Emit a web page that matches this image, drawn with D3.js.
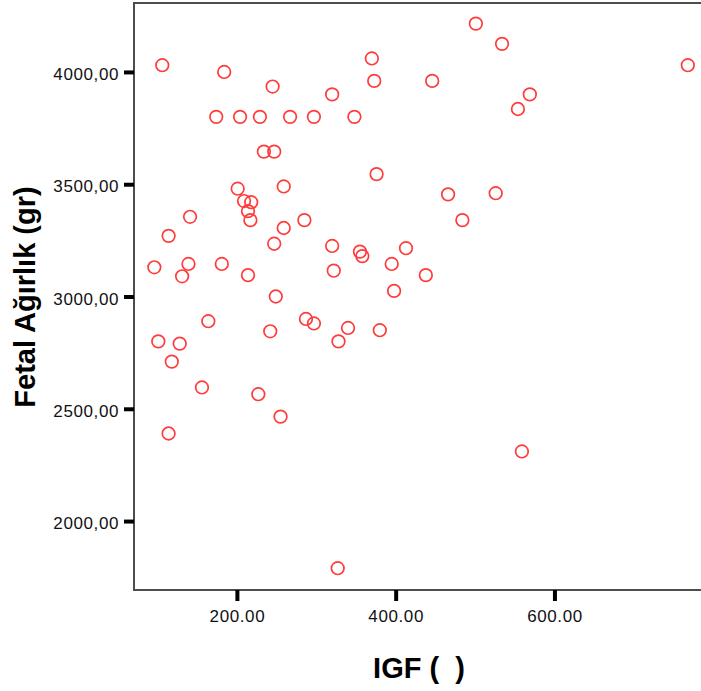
<!DOCTYPE html>
<html>
<head>
<meta charset="utf-8">
<script src="https://cdn.jsdelivr.net/npm/d3@7"></script>
<style>
  html, body { margin: 0; padding: 0; background: #fff; }
  svg { display: block; font-family: Arial, "Liberation Sans", sans-serif; }
</style>
</head>
<body>
<div id="chart"></div>
<script>
// ---- data ----
const igf = [106, 184, 245, 174, 204, 229, 267, 297, 348, 320,
             370, 373, 446, 501, 534, 569, 554, 768, 234, 247,
             201, 259, 376, 466, 526, 484, 209, 218, 214, 217,
             141, 114, 285, 259, 247, 320, 355, 358, 413, 96,
             139, 181, 131, 214, 322, 395, 438, 398, 249, 164,
             287, 297, 242, 340, 380, 101, 128, 328, 118, 156,
             227, 255, 114, 559, 327];
const fetalWeight = [4030, 4000, 3935, 3800, 3800, 3800, 3800, 3800, 3800, 3900,
                     4060, 3960, 3960, 4215, 4125, 3900, 3835, 4030, 3645, 3645,
                     3480, 3490, 3545, 3455, 3460, 3340, 3425, 3420, 3380, 3340,
                     3355, 3270, 3340, 3305, 3235, 3225, 3200, 3180, 3215, 3130,
                     3145, 3145, 3090, 3095, 3115, 3145, 3095, 3025, 3000, 2890,
                     2900, 2880, 2845, 2860, 2850, 2800, 2790, 2800, 2710, 2595,
                     2565, 2465, 2390, 2310, 1790];
const xTickValues = [200, 400, 600];
const xTickLabels = ["200.00", "400.00", "600.00"];
const yTickValues = [2000, 2500, 3000, 3500, 4000];
const yTickLabels = ["2000,00", "2500,00", "3000,00", "3500,00", "4000,00"];
const xTitle = "IGF (  )";
const yTitle = "Fetal Ağırlık (gr)";

// ---- layout ----
const W = 701, H = 691;
const plot = { left: 134, top: 3, right: 701, bottom: 590 };

const svg = d3.select("#chart").append("svg")
  .attr("width", W).attr("height", H);

const x = d3.scaleLinear().domain([70.4, 784.6]).range([plot.left, plot.right]);
const y = d3.scaleLinear().domain([1693, 4307]).range([plot.bottom, plot.top]);

// frame (right side runs off the canvas as in the reference)
svg.append("rect")
  .attr("x", plot.left).attr("y", plot.top)
  .attr("width", plot.right - plot.left + 30)
  .attr("height", plot.bottom - plot.top)
  .attr("fill", "none").attr("stroke", "#4d4d4d").attr("stroke-width", 2);

// y axis
const yAxis = svg.append("g")
  .attr("transform", `translate(${plot.left},0)`)
  .call(d3.axisLeft(y).tickValues(yTickValues).tickSize(10).tickPadding(5)
        .tickFormat((d, i) => yTickLabels[i]));
yAxis.select(".domain").remove();
yAxis.selectAll(".tick line").attr("stroke", "#000").attr("stroke-width", 4);
yAxis.selectAll(".tick text")
  .attr("font-size", 17).attr("fill", "#111")
  .attr("font-family", "Arial, 'Liberation Sans', sans-serif")
  .style("letter-spacing", "0.6px")
  .attr("dy", "0.45em");

// x axis
const xAxis = svg.append("g")
  .attr("transform", `translate(0,${plot.bottom})`)
  .call(d3.axisBottom(x).tickValues(xTickValues).tickSize(11).tickPadding(9)
        .tickFormat((d, i) => xTickLabels[i]));
xAxis.select(".domain").remove();
xAxis.selectAll(".tick line").attr("stroke", "#000").attr("stroke-width", 4);
xAxis.selectAll(".tick text")
  .attr("font-size", 17).attr("fill", "#111")
  .attr("font-family", "Arial, 'Liberation Sans', sans-serif")
  .style("letter-spacing", "0.6px");

// points
svg.append("g").selectAll("circle")
  .data(igf.map((v, i) => [v, fetalWeight[i]]))
  .join("circle")
  .attr("cx", d => x(d[0]))
  .attr("cy", d => y(d[1]))
  .attr("r", 6.3)
  .attr("fill", "none")
  .attr("stroke", "#ff3b3b")
  .attr("stroke-width", 1.7);

// axis titles
svg.append("text")
  .attr("x", 419).attr("y", 678)
  .attr("text-anchor", "middle")
  .attr("font-size", 29).attr("font-weight", "bold").attr("fill", "#000")
  .style("white-space", "pre")
  .text(xTitle);

svg.append("text")
  .attr("transform", "translate(35,297) rotate(-90)")
  .attr("text-anchor", "middle")
  .attr("font-size", 29).attr("font-weight", "bold").attr("fill", "#000")
  .text(yTitle);
</script>
</body>
</html>
